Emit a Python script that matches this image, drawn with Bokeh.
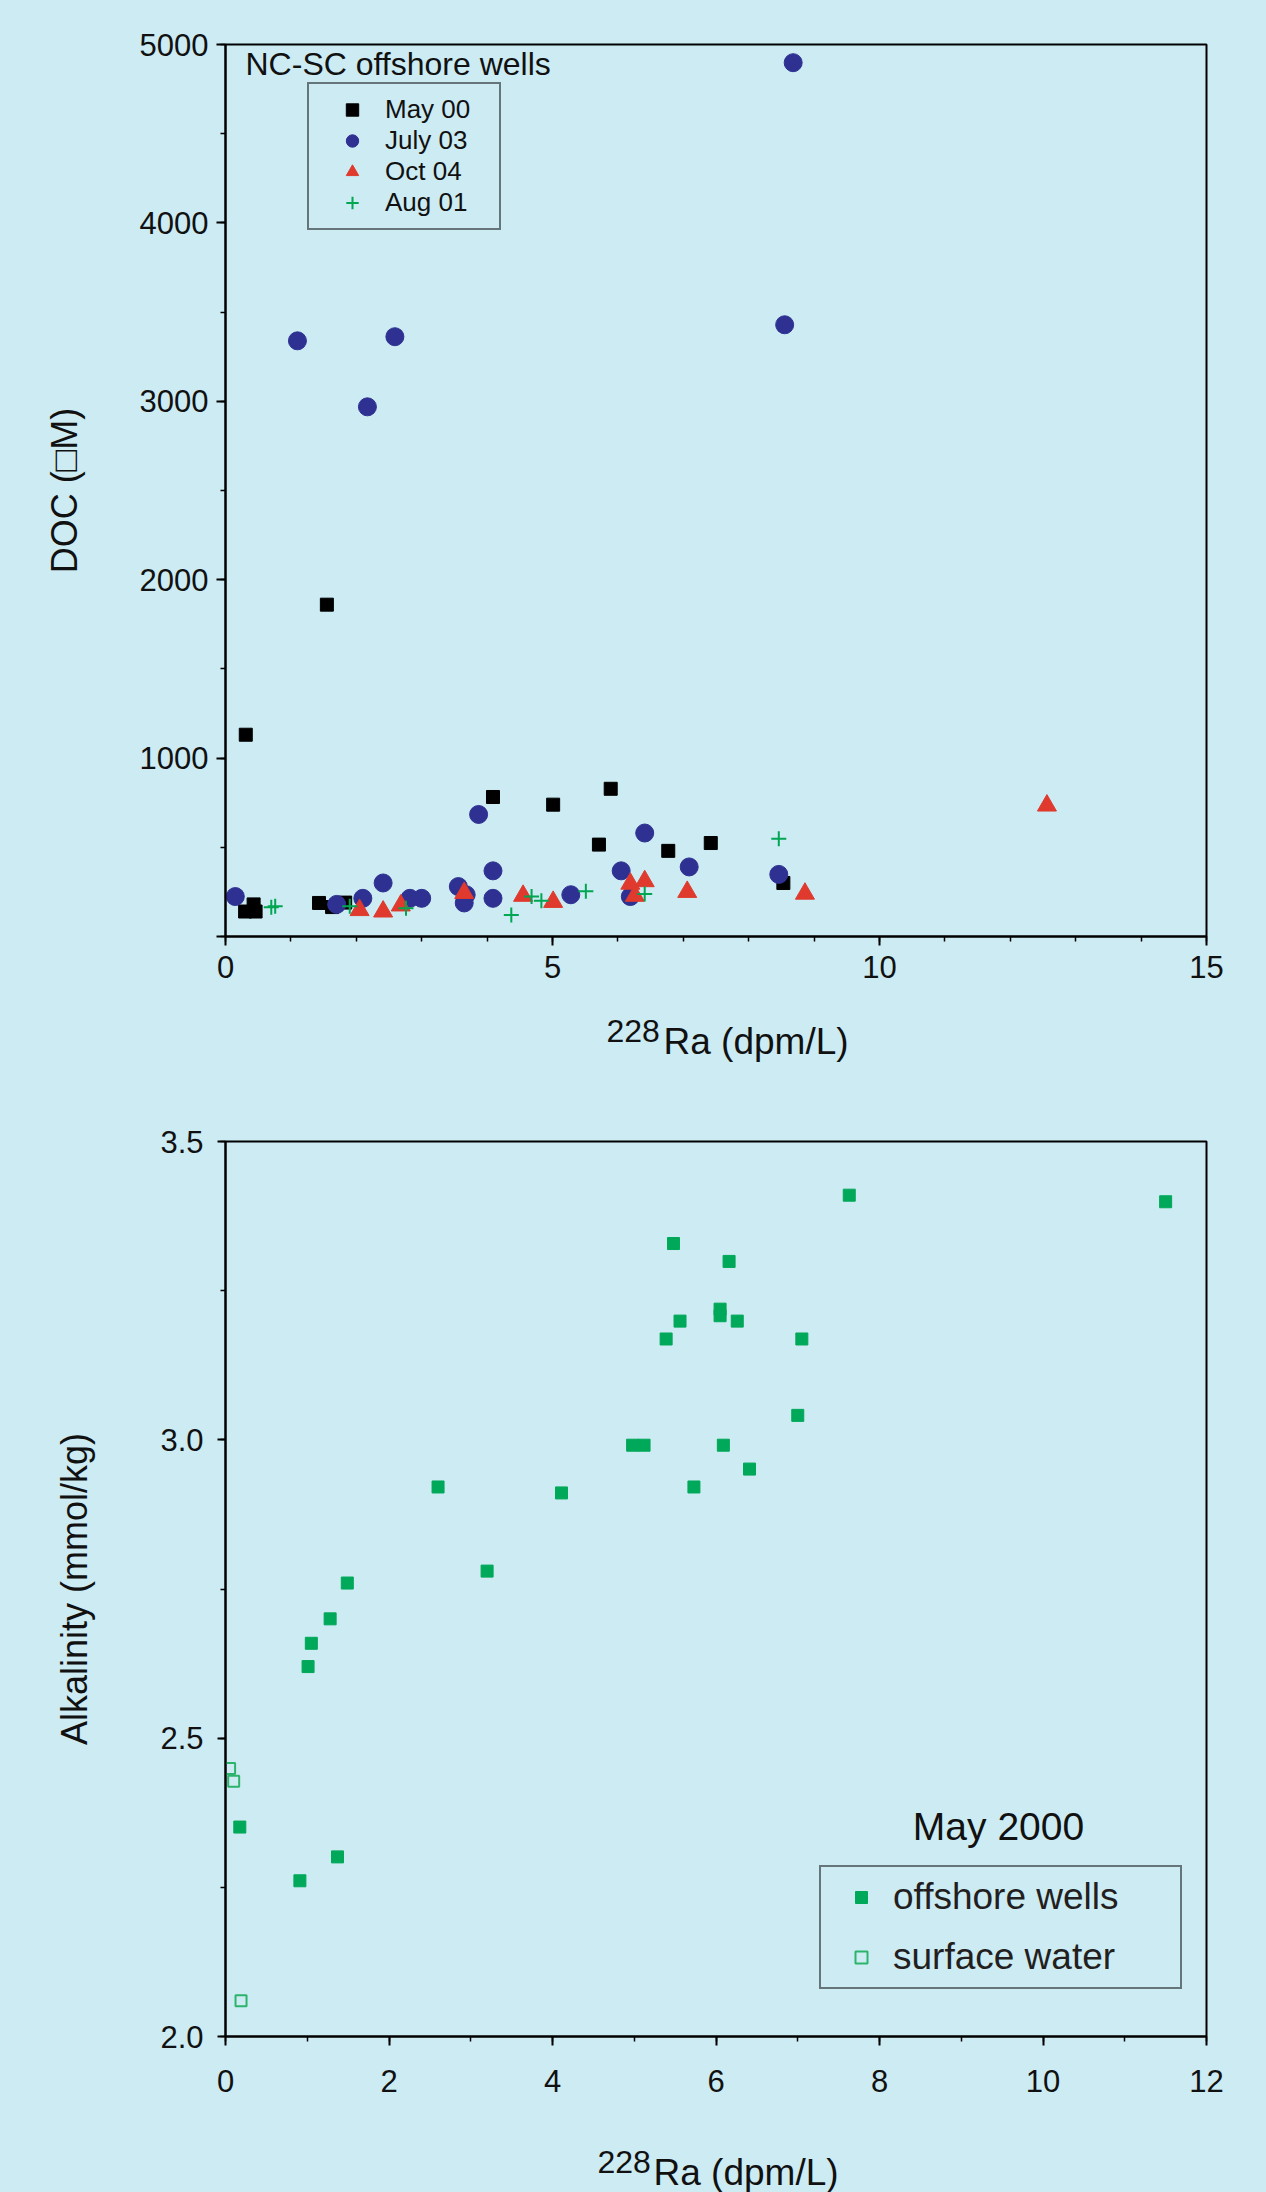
from bokeh.plotting import figure
from bokeh.models import (Legend, LegendItem, Label, FixedTicker,
                          GlobalInlineStyleSheet)
from bokeh.layouts import column
from bokeh.embed import file_html
from bokeh.resources import INLINE

# ---------------- data : top panel (DOC vs 228Ra) ----------------
may00_x = [0.30, 0.46, 0.43, 1.43, 1.63, 1.83, 1.55, 0.31, 4.09, 5.01, 5.89, 5.71, 6.77, 7.42, 8.53]
may00_y = [140, 140, 180, 188, 165, 190, 1860, 1131, 782, 739, 828, 515, 480, 524, 300]

july03_x = [0.15, 1.10, 2.17, 2.59, 1.70, 2.10, 2.41, 2.82, 3.00, 3.56, 3.68, 3.65,
            3.87, 4.09, 4.09, 5.28, 6.05, 6.19, 6.41, 7.09, 8.46, 8.55, 8.68]
july03_y = [224, 3339, 2969, 3362, 180, 214, 300, 214, 214, 280, 234, 188,
            684, 368, 214, 234, 368, 224, 580, 390, 348, 3429, 4898]

oct04_x = [2.05, 2.41, 2.68, 3.65, 4.55, 5.01, 6.19, 6.26, 6.41, 7.06, 8.86, 12.56]
oct04_y = [148, 140, 174, 244, 228, 194, 296, 228, 310, 250, 240, 734]

aug01_x = [0.70, 0.76, 1.90, 2.76, 4.37, 4.68, 4.83, 5.51, 6.41, 8.46]
aug01_y = [164, 170, 170, 158, 120, 224, 200, 254, 238, 548]

top_xticks = [0, 5, 10, 15]
top_yticks = [0, 1000, 2000, 3000, 4000, 5000]

# ---------------- data : bottom panel (Alkalinity vs 228Ra) ----------------
wells_x = [0.175, 0.91, 1.01, 1.05, 1.28, 1.37, 1.49, 2.60, 3.20, 4.11, 4.98, 5.12, 5.39,
           5.48, 5.56, 5.73, 6.05, 6.05, 6.09, 6.16, 6.26, 6.41, 7.00, 7.05, 7.63, 11.50]
wells_y = [2.351, 2.261, 2.620, 2.659, 2.700, 2.301, 2.760, 2.921, 2.780, 2.911, 2.991, 2.991, 3.169,
           3.329, 3.199, 2.921, 3.219, 3.208, 2.991, 3.299, 3.199, 2.951, 3.041, 3.169, 3.410, 3.399]

surface_x = [0.05, 0.10, 0.19]
surface_y = [2.449, 2.428, 2.060]

bot_xticks = [0, 2, 4, 6, 8, 10, 12]
bot_yticks = [2.0, 2.5, 3.0, 3.5]

# ---------------- styling ----------------
BG = "#CCEBF3"
FONT = "Liberation Sans"
TXT = "#111111"
LEFT = 225    # frame left border (frames are aligned inside the column)
RIGHT = 60    # frame right border


def style(p, tick_std_x, tick_std_y, ylab_std, ytick_out):
    p.grid.visible = False
    for ax in (p.xaxis[0], p.yaxis[0]):
        ax.axis_line_width = 2
        ax.axis_line_color = "black"
        ax.major_tick_in = 0
        ax.minor_tick_in = 0
        ax.major_tick_line_width = 2
        ax.minor_tick_line_width = 1.5
        ax.minor_tick_out = 5
        ax.major_label_text_font = FONT
        ax.major_label_text_font_size = "31px"
        ax.major_label_text_color = TXT
        ax.axis_label_text_font = FONT
        ax.axis_label_text_font_style = "normal"
        ax.axis_label_text_color = TXT
    p.xaxis[0].major_tick_out = 9
    p.yaxis[0].major_tick_out = ytick_out
    p.xaxis[0].major_label_standoff = tick_std_x
    p.yaxis[0].major_label_standoff = tick_std_y
    p.yaxis[0].axis_label_standoff = ylab_std
    p.yaxis[0].axis_label_text_font_size = "36px"


def label_strip(height, sup_x, sup_y, main_x, main_y):
    s = figure(width=1266, height=height, x_range=(0, 1), y_range=(0, 1),
               x_axis_type=None, y_axis_type=None, output_backend="svg", toolbar_location=None,
               min_border_left=LEFT, min_border_right=RIGHT, min_border_top=0, min_border_bottom=0,
               background_fill_color=BG, border_fill_color=BG, outline_line_color=None)
    s.grid.visible = False
    s.add_layout(Label(x=sup_x, y=sup_y, x_units="screen", y_units="screen", text="228",
                       text_font=FONT, text_font_size="32px", text_color=TXT,
                       text_baseline="alphabetic"))
    s.add_layout(Label(x=main_x, y=main_y, x_units="screen", y_units="screen", text="Ra (dpm/L)",
                       text_font=FONT, text_font_size="37px", text_color=TXT,
                       text_baseline="alphabetic"))
    return s


# ---------------- top figure ----------------
p1 = figure(width=1266, height=1006, x_range=(0, 15), y_range=(0, 5000),
            output_backend="svg", toolbar_location=None,
            min_border_left=LEFT, min_border_right=RIGHT, min_border_top=44, min_border_bottom=70,
            background_fill_color=BG, border_fill_color=BG,
            outline_line_color="black", outline_line_width=2)
p1.xaxis.ticker = FixedTicker(ticks=top_xticks, minor_ticks=list(range(0, 16)))
p1.yaxis.ticker = FixedTicker(ticks=top_yticks, minor_ticks=list(range(0, 5001, 500)))
p1.yaxis.major_label_overrides = {0: ""}
p1.yaxis.axis_label = "DOC (\u25A1M)"
style(p1, tick_std_x=10, tick_std_y=8, ylab_std=52, ytick_out=9)

r_may = p1.scatter(may00_x, may00_y, marker="square", size=13, color="black")
r_jul = p1.scatter(july03_x, july03_y, marker="circle", size=18, color="#2E3192")
r_oct = p1.scatter(oct04_x, oct04_y, marker="triangle", size=19, color="#DF3A2D")
r_aug = p1.scatter(aug01_x, aug01_y, marker="cross", size=15, line_width=2, color="#00A651")

leg1 = Legend(items=[LegendItem(label="May 00", renderers=[r_may]),
                     LegendItem(label="July 03", renderers=[r_jul]),
                     LegendItem(label="Oct 04", renderers=[r_oct]),
                     LegendItem(label="Aug 01", renderers=[r_aug])],
              location=(82, 706), orientation="vertical", margin=0, padding=10, spacing=0,
              glyph_width=66, glyph_height=31, label_height=31, label_width=104,
              label_standoff=0, label_text_font=FONT, label_text_font_size="26px",
              label_text_color=TXT, border_line_color="black", border_line_width=2,
              background_fill_alpha=0)
p1.add_layout(leg1)

p1.add_layout(Label(x=20, y=873, x_units="screen", y_units="screen", text="NC-SC offshore wells",
                    text_font=FONT, text_font_size="32px", text_color=TXT,
                    text_baseline="alphabetic"))

strip1 = label_strip(94, 381, 70, 438, 59)

# ---------------- bottom figure ----------------
p2 = figure(width=1266, height=1016, x_range=(0, 12), y_range=(2.0, 3.5),
            output_backend="svg", toolbar_location=None,
            min_border_left=LEFT, min_border_right=RIGHT, min_border_top=41, min_border_bottom=80,
            background_fill_color=BG, border_fill_color=BG,
            outline_line_color="black", outline_line_width=2)
p2.xaxis.ticker = FixedTicker(ticks=bot_xticks, minor_ticks=list(range(0, 13)))
p2.yaxis.ticker = FixedTicker(ticks=bot_yticks, minor_ticks=[2.0, 2.25, 2.5, 2.75, 3.0, 3.25, 3.5])
p2.yaxis.major_label_overrides = {2.0: "2.0", 2.5: "2.5", 3.0: "3.0", 3.5: "3.5"}
p2.yaxis.axis_label = "Alkalinity (mmol/kg)"
style(p2, tick_std_x=24, tick_std_y=14, ylab_std=62, ytick_out=8)

r_wells = p2.scatter(wells_x, wells_y, marker="square", size=12, color="#00A859")
r_surf = p2.scatter(surface_x, surface_y, marker="square", size=11, fill_color=None,
                    line_color="#2DB46C", line_width=2)

leg2 = Legend(items=[LegendItem(label="offshore wells", renderers=[r_wells]),
                     LegendItem(label="surface water", renderers=[r_surf])],
              location=(594, 47), orientation="vertical", margin=0, padding=9, spacing=18,
              glyph_width=62, glyph_height=30, label_height=42, label_width=278,
              label_standoff=1, label_text_font=FONT, label_text_font_size="37px",
              label_text_color="#231F20", border_line_color="black", border_line_width=2,
              background_fill_alpha=0)
p2.add_layout(leg2)

p2.add_layout(Label(x=773, y=210, x_units="screen", y_units="screen", text="May 2000",
                    text_font=FONT, text_font_size="39px", text_color=TXT,
                    text_align="center", text_baseline="alphabetic"))

strip2 = label_strip(76, 372, 31, 428, 20)

page = column(p1, strip1, p2, strip2, spacing=0,
              stylesheets=[GlobalInlineStyleSheet(css=f"body {{ margin: 0; background: {BG}; }}")])

open("out.html", "w").write(file_html(page, INLINE))
